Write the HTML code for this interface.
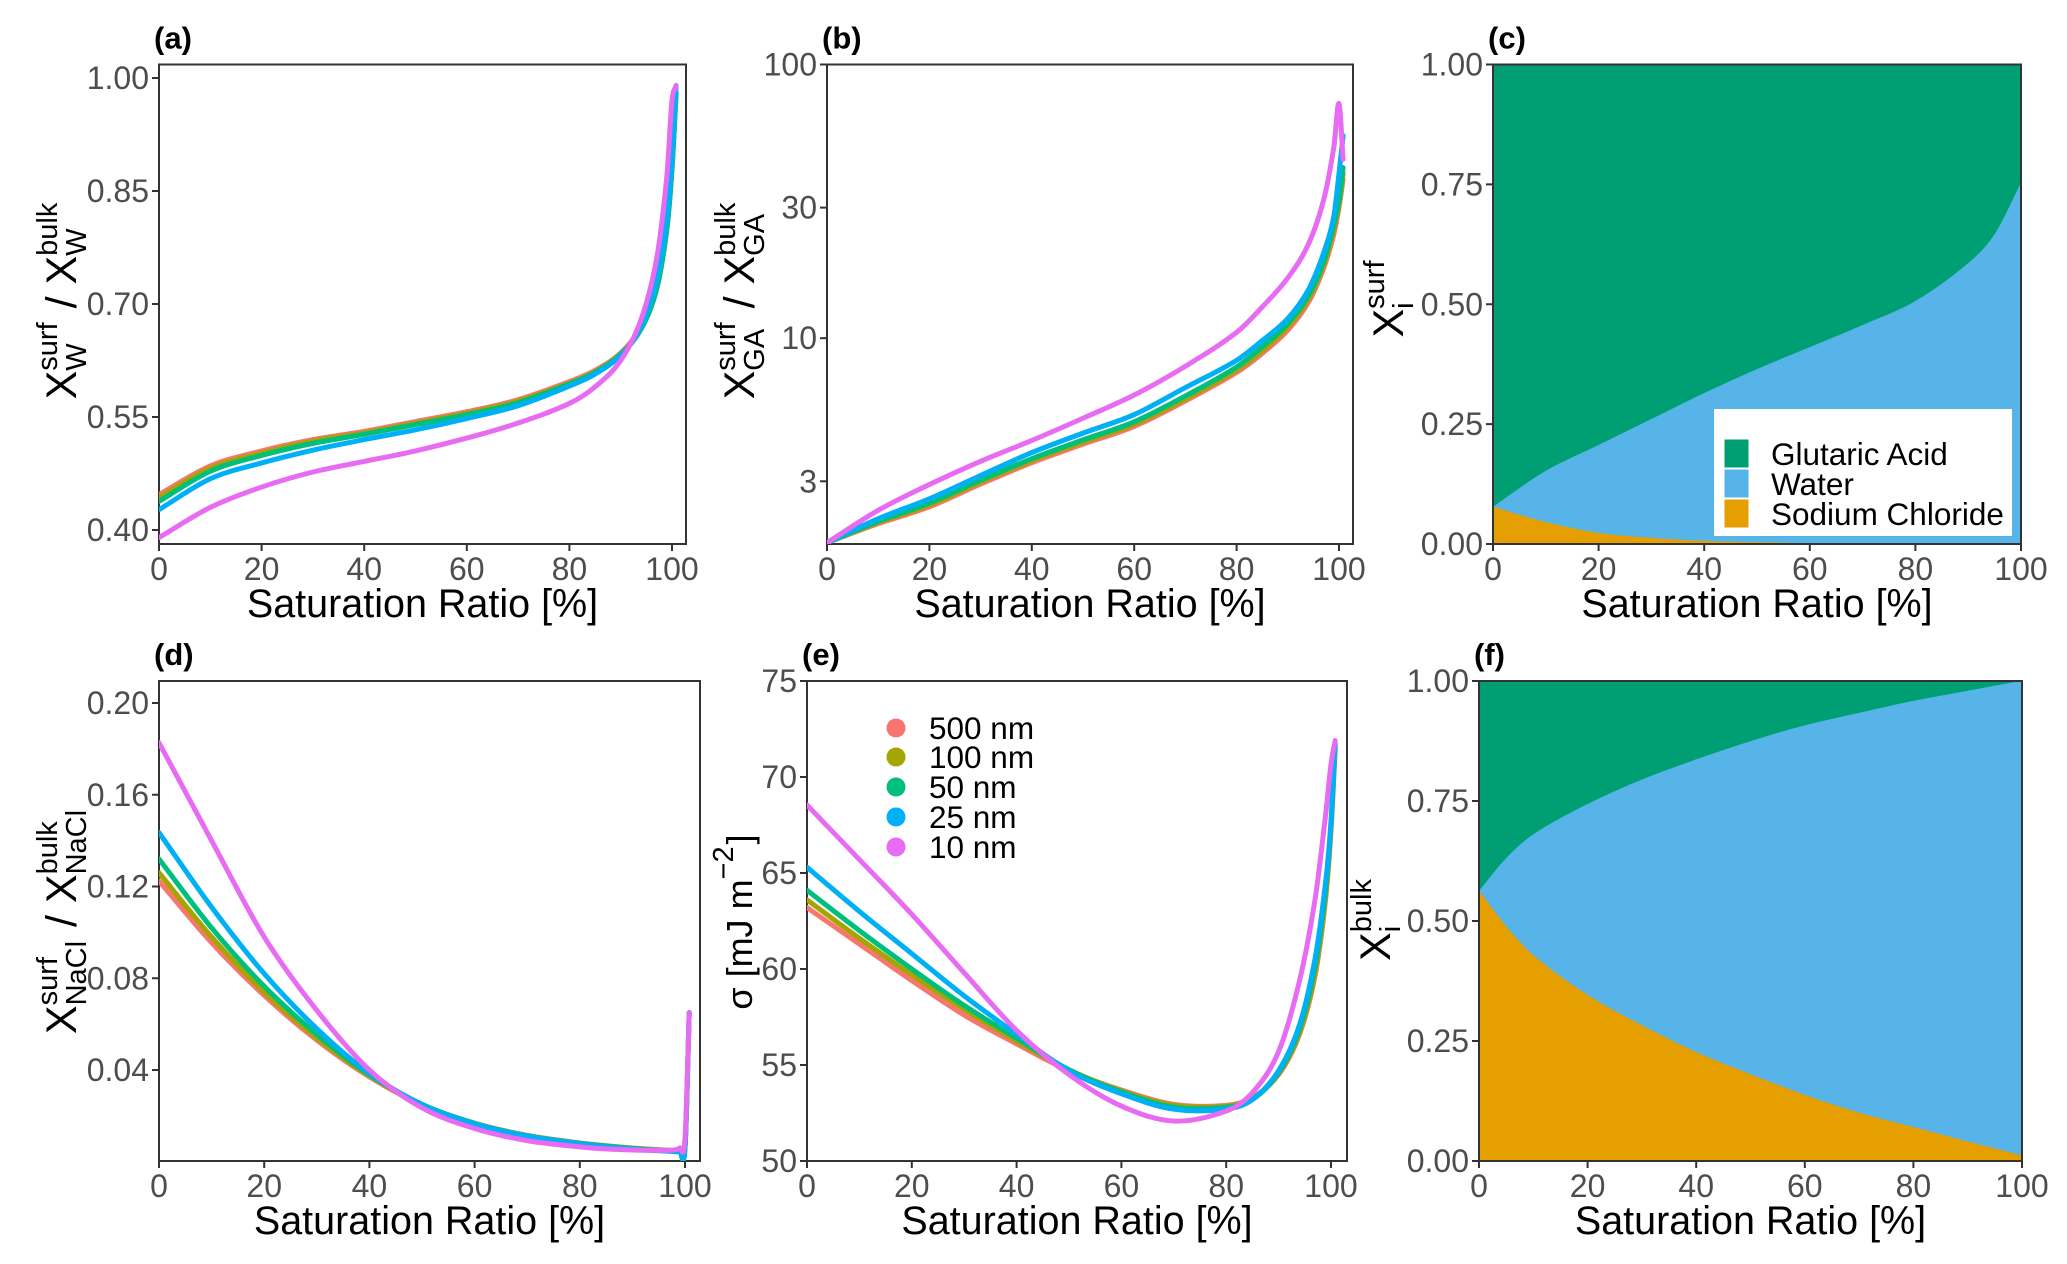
<!DOCTYPE html>
<html><head><meta charset="utf-8">
<style>
html,body{margin:0;padding:0;background:#fff;}
svg{display:block;font-family:"Liberation Sans",Arial,sans-serif;}
</style></head>
<body>
<svg id="fig" width="2067" height="1264" viewBox="0 0 2067 1264" xmlns="http://www.w3.org/2000/svg"></svg>
<script>
// ---------- shared data ----------
const sizeLabels = ["500 nm","100 nm","50 nm","25 nm","10 nm"];
const sizeColors = ["#F8766D","#A3A500","#00BF7D","#00B0F6","#E76BF3"];
const satX = [0,10,20,30,40,50,60,70,80,85,90,94,97,99,100,100.8];

// panel (a) x_W surf / bulk
const aY500 = [0.447,0.485,0.505,0.520,0.531,0.544,0.557,0.573,0.597,0.612,0.635,0.670,0.720,0.800,0.880,0.980];
const aY100 = [0.443,0.482,0.502,0.518,0.529,0.542,0.555,0.571,0.595,0.610,0.634,0.668,0.720,0.800,0.880,0.980];
const aY50  = [0.438,0.478,0.499,0.515,0.527,0.540,0.553,0.569,0.594,0.609,0.633,0.667,0.720,0.800,0.880,0.980];
const aY25  = [0.427,0.468,0.489,0.506,0.520,0.533,0.548,0.565,0.591,0.607,0.632,0.670,0.730,0.810,0.890,0.990];
const aY10  = [0.390,0.430,0.457,0.477,0.491,0.505,0.522,0.542,0.568,0.590,0.625,0.680,0.760,0.870,0.970,0.990];
const aTicks = [0.40,0.55,0.70,0.85,1.00];
const aTickLabels = ["0.40","0.55","0.70","0.85","1.00"];

// panel (b) x_GA surf / bulk (log)
const bY500 = [1.79,2.10,2.42,2.93,3.51,4.10,4.76,5.90,7.50,8.80,10.7,13.5,18.0,24.0,30.0,38.0];
const bY100 = [1.79,2.12,2.46,2.98,3.57,4.17,4.85,6.00,7.65,9.00,11.0,13.9,18.5,25.0,31.0,40.0];
const bY50  = [1.79,2.14,2.50,3.03,3.63,4.25,4.95,6.15,7.85,9.30,11.3,14.3,19.0,26.0,32.0,42.0];
const bY25  = [1.79,2.19,2.59,3.15,3.82,4.50,5.26,6.60,8.30,9.80,11.8,15.0,20.5,28.0,40.0,55.0];
const bY10  = [1.79,2.35,2.92,3.55,4.23,5.10,6.20,7.90,10.5,13.0,16.6,22.0,32.0,50.0,72.0,45.0];
const bTicks = [3,10,30,100];
const bTickLabels = ["3","10","30","100"];

// panel (d) x_NaCl surf / bulk
const dY500 = [0.1224,0.0955,0.0725,0.0530,0.0370,0.0248,0.0168,0.0115,0.0082,0.0070,0.0060,0.0054,0.0050,0.0049,0.0060,0.065];
const dY100 = [0.1260,0.0980,0.0740,0.0540,0.0375,0.0250,0.0168,0.0114,0.0081,0.0069,0.0059,0.0053,0.0049,0.0048,0.0060,0.065];
const dY50  = [0.1320,0.1020,0.0765,0.0555,0.0380,0.0250,0.0167,0.0113,0.0080,0.0068,0.0058,0.0052,0.0048,0.0047,0.0060,0.065];
const dY25  = [0.1435,0.1110,0.0820,0.0580,0.0385,0.0250,0.0165,0.0112,0.0079,0.0066,0.0055,0.0049,0.0046,0.0045,0.0065,0.065];
const dY10  = [0.1827,0.1400,0.0980,0.0660,0.0400,0.0235,0.0145,0.0092,0.0065,0.0056,0.0051,0.0050,0.0050,0.0060,0.0102,0.065];
const dTicks = [0.04,0.08,0.12,0.16,0.20];
const dTickLabels = ["0.04","0.08","0.12","0.16","0.20"];

// panel (e) surface tension
const eY500 = [63.2,61.3,59.4,57.6,56.1,54.7,53.7,52.95,52.9,53.3,54.5,56.6,59.7,63.7,67.2,71.5];
const eY100 = [63.6,61.6,59.7,57.9,56.25,54.75,53.65,52.9,52.85,53.25,54.55,56.7,59.9,63.9,67.4,71.6];
const eY50  = [64.1,62.0,60.0,58.1,56.4,54.75,53.6,52.8,52.8,53.2,54.6,56.9,60.2,64.2,67.5,71.7];
const eY25  = [65.3,63.0,60.8,58.6,56.6,54.7,53.5,52.7,52.7,53.2,54.7,57.1,60.6,64.6,67.7,71.8];
const eY10  = [68.54,65.7,62.85,59.8,56.8,54.5,52.86,52.08,52.6,53.56,55.7,59.4,63.7,68.1,70.66,71.9];
const eTicks = [50,55,60,65,70,75];
const eTickLabels = ["50","55","60","65","70","75"];

// panel (c) surface composition (stacked)
const cX = [0,10,20,30,40,50,60,70,80,90,95,100];
const cNaCl  = [0.077,0.045,0.0225,0.012,0.006,0.003,0.001,0,0,0,0,0];
const cWater = [0,0.107,0.1835,0.248,0.308,0.361,0.409,0.456,0.506,0.585,0.645,0.752];

// panel (f) bulk composition (stacked)
const fX = [0,5,10,20,30,40,50,60,70,80,90,100];
const fNaCl  = [0.562,0.488,0.428,0.345,0.282,0.226,0.18,0.137,0.10,0.07,0.04,0.011];
const fWater = [0,0.142,0.252,0.398,0.512,0.61,0.694,0.77,0.833,0.888,0.939,0.989];

const fracTicks = [0,0.25,0.5,0.75,1.0];
const fracTickLabels = ["0.00","0.25","0.50","0.75","1.00"];
const xTicks = [0,20,40,60,80,100];
const xTickLabels = ["0","20","40","60","80","100"];
const compNames = ["Glutaric Acid","Water","Sodium Chloride"];
const compColors = ["#009E73","#56B4E9","#E69F00"];

// ---------- helpers ----------
const NS = "http://www.w3.org/2000/svg";
const svg = document.getElementById("fig");
function mk(tag, attrs, parent){
  const e = document.createElementNS(NS, tag);
  for (const k in attrs) e.setAttribute(k, attrs[k]);
  (parent||svg).appendChild(e);
  return e;
}
function lin(d0,d1,r0,r1){ return v => r0 + (v-d0)/(d1-d0)*(r1-r0); }
function logs(d0,d1,r0,r1){ const a=Math.log10(d0), b=Math.log10(d1); return v => r0 + (Math.log10(v)-a)/(b-a)*(r1-r0); }
function smoothPts(pts, ts){
  const n = pts.length;
  const tan = pts.map((p,i)=>{
    const a = Math.max(0,i-1), b = Math.min(n-1,i+1);
    const dt = ts[b]-ts[a] || 1;
    return [(pts[b][0]-pts[a][0])/dt, (pts[b][1]-pts[a][1])/dt];
  });
  let d = "";
  for (let i=0;i<n-1;i++){
    const dt = (ts[i+1]-ts[i])/3;
    const p1=pts[i], p2=pts[i+1];
    d += " C"+(p1[0]+tan[i][0]*dt).toFixed(2)+","+(p1[1]+tan[i][1]*dt).toFixed(2)+" "+
         (p2[0]-tan[i+1][0]*dt).toFixed(2)+","+(p2[1]-tan[i+1][1]*dt).toFixed(2)+" "+
         p2[0].toFixed(2)+","+p2[1].toFixed(2);
  }
  return d;
}
function smoothPath(pts, ts){
  return "M"+pts[0][0].toFixed(2)+","+pts[0][1].toFixed(2)+smoothPts(pts,ts);
}

function panelFrame(p){
  const g = mk("g", {});
  
  
  p.g = g;
  return g;
}
function drawAxes(p, yTicks, yLabels, sy){
  const g = p.g;
  const box = mk("rect",{x:p.L,y:p.T,width:p.R-p.L,height:p.B-p.T,fill:"none",stroke:"#333",'stroke-width':2},g);
  
  
  const sx = p.sx;
  xTicks.forEach((v,i)=>{
    const x = sx(v);
    const t = mk("line",{x1:x,x2:x,y1:p.B,y2:p.B+7,stroke:"#333",'stroke-width':2},g);
    
    
    const lb = mk("text",{x:x,y:p.B+36,'text-anchor':"middle",'font-size':32,fill:"#4D4D4D"},g);
    lb.textContent = xTickLabels[i];
    
    
  });
  yTicks.forEach((v,i)=>{
    const y = sy(v);
    const t = mk("line",{x1:p.L-7,x2:p.L,y1:y,y2:y,stroke:"#333",'stroke-width':2},g);
    
    
    const lb = mk("text",{x:p.L-10,y:y+11,'text-anchor':"end",'font-size':32,fill:"#4D4D4D"},g);
    lb.textContent = yLabels[i];
    
    
  });
  const xt = mk("text",{x:(p.L+p.R)/2,y:p.B+73,'text-anchor':"middle",'font-size':39.5,fill:"#000"},g);
  xt.textContent = "Saturation Ratio [%]";
  
  
  const pl = mk("text",{x:p.L-5,y:p.T-16,'font-size':31,'font-weight':"bold",fill:"#000"},g);
  pl.textContent = p.label;
  
  
}
function yTitle(p, bx, cy, pieces){
  const g = mk("g",{transform:"translate("+bx+","+cy+") rotate(-90)"},p.g);
  
  
  const t = mk("text",{x:0,y:0,fill:"#000"},g);
  let x = 0;
  pieces.forEach(pc=>{
    if (pc.t!==undefined){
      const s = mk("tspan",{'font-size':pc.fs||43,x:x,y:0},t);
      s.textContent = pc.t;
      x += s.getComputedTextLength();
    } else {
      let w=0;
      if (pc.sup){ const s=mk("tspan",{'font-size':29,x:x,y:-19},t); s.textContent=pc.sup; w=Math.max(w,s.getComputedTextLength()); }
      if (pc.sub){ const s=mk("tspan",{'font-size':29,x:x,y:10},t); s.textContent=pc.sub; w=Math.max(w,s.getComputedTextLength()); }
      x += w+2;
    }
  });
  t.setAttribute("transform","translate("+(-x/2)+",0)");
}

function linePanel(p, series, yTicks, yLabels){
  drawAxes(p, yTicks, yLabels, p.sy);
  const clipId = "clip"+p.label.replace(/\W/g,"");
  const cp = mk("clipPath",{id:clipId},p.g);
  mk("rect",{x:p.L,y:p.T,width:p.R-p.L,height:p.B-p.T},cp);
  const lg = mk("g",{'clip-path':"url(#"+clipId+")"},p.g);
  series.forEach((ys,si)=>{
    const pts = satX.map((xv,i)=>[p.sx(xv), p.sy(ys[i])]);
    const path = mk("path",{d:smoothPath(pts,satX),fill:"none",stroke:sizeColors[si],'stroke-width':5,'stroke-linecap':"round",'stroke-linejoin':"round"},lg);
    
    
  });
}
function areaPanel(p, xs, nacl, water){
  drawAxes(p, fracTicks, fracTickLabels, p.sy);
  const sx=p.sx, sy=p.sy;
  const top = xs.map(x=>[sx(x),sy(1)]);
  const b1 = xs.map((x,i)=>[sx(x),sy(nacl[i]+water[i])]);
  const b0 = xs.map((x,i)=>[sx(x),sy(nacl[i])]);
  const base = xs.map(x=>[sx(x),sy(0)]);
  const rxs = xs.slice().reverse().map(v=>-v);
  function band(upper, lower, color, nm){
    const lowerRev = lower.slice().reverse();
    const d = smoothPath(upper, xs) + " L" + lowerRev[0][0]+","+lowerRev[0][1] + smoothPts(lowerRev, rxs) + " Z";
    const e = mk("path",{d:d,fill:color,stroke:color,'stroke-width':0.6},p.g);
    
    
  }
  band(top,b1,compColors[0],"area-glutaric-acid");
  band(b1,b0,compColors[1],"area-water");
  band(b0,base,compColors[2],"area-sodium-chloride");
  const br = mk("rect",{x:p.L,y:p.T,width:p.R-p.L,height:p.B-p.T,fill:"none",stroke:"#333",'stroke-width':2},p.g);
  
  
}

// ---------- panels ----------
const pa = {name:"panel-a",label:"(a)",L:159,R:686,T:64.5,B:544};
pa.sx = lin(0,100,159,672); pa.sy = lin(0.40,1.00,530,78);
panelFrame(pa);
linePanel(pa,[aY500,aY100,aY50,aY25,aY10],aTicks,aTickLabels);
yTitle(pa,76,300,[{t:"X"},{sup:"surf",sub:"W"},{t:" / X"},{sup:"bulk",sub:"W"}]);

const pb = {name:"panel-b",label:"(b)",L:827,R:1353,T:64.5,B:544};
pb.sx = lin(0,100,827,1339); pb.sy = logs(3,100,481.3,64.5);
panelFrame(pb);
linePanel(pb,[bY500,bY100,bY50,bY25,bY10],bTicks,bTickLabels);
yTitle(pb,754,300,[{t:"X"},{sup:"surf",sub:"GA"},{t:" / X"},{sup:"bulk",sub:"GA"}]);

const pc = {name:"panel-c",label:"(c)",L:1493,R:2021,T:64.5,B:544};
pc.sx = lin(0,100,1493,2021); pc.sy = lin(0,1,544,64.5);
panelFrame(pc);
areaPanel(pc,cX,cNaCl,cWater);
yTitle(pc,1403,298,[{t:"X"},{sup:"surf",sub:"i"}]);
(function(){
  const lg = mk("g",{},pc.g);
  
  
  mk("rect",{x:1714,y:409,width:298,height:127,fill:"#fff"},lg);
  const rows=[439,469,499];
  compNames.forEach((n,i)=>{
    const k = mk("rect",{x:1724,y:rows[i],width:25,height:29,fill:compColors[i],stroke:"#fff",'stroke-width':1},lg);
    
    
    const t = mk("text",{x:1771,y:rows[i]+26,'font-size':31.5,fill:"#000"},lg);
    t.textContent = n;
    
    
  });
})();

const pd = {name:"panel-d",label:"(d)",L:159,R:700,T:681,B:1161};
pd.sx = lin(0,100,159,685); pd.sy = lin(0.04,0.20,1070,703);
panelFrame(pd);
linePanel(pd,[dY500,dY100,dY50,dY25,dY10],dTicks,dTickLabels);
yTitle(pd,76,921,[{t:"X"},{sup:"surf",sub:"NaCl"},{t:" / X"},{sup:"bulk",sub:"NaCl"}]);

const pe = {name:"panel-e",label:"(e)",L:807,R:1347,T:681,B:1161};
pe.sx = lin(0,100,807,1331); pe.sy = lin(50,75,1161,681);
panelFrame(pe);
linePanel(pe,[eY500,eY100,eY50,eY25,eY10],eTicks,eTickLabels);
yTitle(pe,752,922,[{t:"σ [mJ m",fs:36},{sup:"−2"},{t:"]",fs:36}]);
(function(){
  const lg = mk("g",{},pe.g);
  
  
  const rows=[728,757,787,817,847];
  sizeLabels.forEach((n,i)=>{
    const c = mk("circle",{cx:896,cy:rows[i],r:9.5,fill:sizeColors[i]},lg);
    
    
    const t = mk("text",{x:929,y:rows[i]+11,'font-size':31.5,fill:"#000"},lg);
    t.textContent = n;
    
    
  });
})();

const pf = {name:"panel-f",label:"(f)",L:1479,R:2022,T:681,B:1161};
pf.sx = lin(0,100,1479,2022); pf.sy = lin(0,1,1161,681);
panelFrame(pf);
areaPanel(pf,fX,fNaCl,fWater);
yTitle(pf,1390,919,[{t:"X"},{sup:"bulk",sub:"i"}]);
</script>
</body></html>
